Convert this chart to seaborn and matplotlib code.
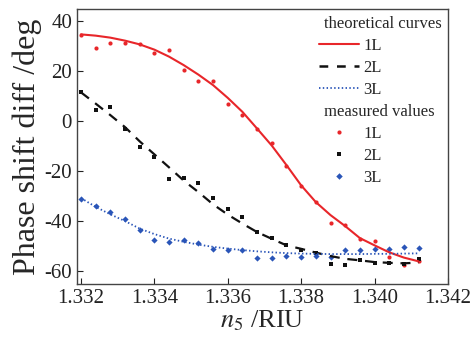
import matplotlib
matplotlib.use("Agg")
import matplotlib.pyplot as plt
from matplotlib.lines import Line2D
import seaborn as sns
import pandas as pd

# refractive index grid (RIU)
n5 = [1.3320, 1.3324, 1.3328, 1.3332, 1.3336, 1.3340, 1.3344, 1.3348,
      1.3352, 1.3356, 1.3360, 1.3364, 1.3368, 1.3372, 1.3376, 1.3380,
      1.3384, 1.3388, 1.3392, 1.3396, 1.3400, 1.3404, 1.3408, 1.3412]

# theoretical curves (deg)
theory_1L = [34.7, 34.2, 33.4, 32.2, 30.7, 28.6, 25.8, 22.4,
             18.6, 14.4, 9.3, 3.7, -3.0, -9.8, -17.6, -25.7,
             -32.4, -37.6, -42.0, -46.8, -49.7, -52.5, -54.6, -56.1]
theory_2L = [11.5, 7.0, 2.4, -2.4, -8.1, -13.3, -18.5, -23.8,
             -28.4, -33.3, -37.4, -41.0, -44.4, -47.1, -49.7, -51.1,
             -52.6, -54.0, -55.1, -55.7, -56.4, -56.7, -56.9, -56.6]
theory_3L = [-30.8, -34.3, -37.3, -40.0, -43.0, -45.2, -47.0, -48.3,
             -49.4, -50.3, -51.0, -51.6, -52.1, -52.5, -52.8, -53.0,
             -53.1, -53.2, -53.2, -53.2, -53.1, -53.1, -53.0, -52.9]

# measured values (deg)
meas_1L = [34.4, 29.3, 31.1, 31.3, 30.7, 27.1, 28.5, 20.3,
           15.9, 15.9, 6.7, 2.5, -3.3, -8.7, -17.9, -26.0,
           -32.5, -40.8, -41.7, -47.0, -48.0, -54.5, -57.4, -55.8]
meas_2L = [11.5, 4.4, 5.5, -3.3, -10.3, -14.3, -23.2, -22.8,
           -24.8, -30.7, -35.1, -38.4, -44.5, -46.9, -49.6, -51.5,
           -52.7, -57.0, -57.5, -55.5, -56.7, -56.7, -57.0, -55.2]
meas_3L = [-31.1, -34.0, -36.4, -39.3, -43.6, -47.6, -48.5, -47.7,
           -48.7, -51.2, -51.5, -51.7, -54.8, -54.8, -54.1, -54.4,
           -54.0, -54.3, -51.5, -51.7, -51.1, -51.3, -50.5, -50.8]

xticks = [1.332, 1.334, 1.336, 1.338, 1.340, 1.342]
xticklabels = ["1.332", "1.334", "1.336", "1.338", "1.340", "1.342"]
yticks = [-60, -40, -20, 0, 20, 40]

RED = "#e8262a"
BLACK = "#111111"
BLUE = "#2a55b8"

sns.set_style("ticks")
plt.rcParams["font.family"] = ["Liberation Serif", "DejaVu Serif"]
plt.rcParams["mathtext.fontset"] = "stix"
plt.rcParams["axes.unicode_minus"] = False

fig = plt.figure(figsize=(4.75, 3.39), dpi=100)
ax = fig.add_axes([0.162, 0.162, 0.781, 0.811])

df = pd.DataFrame({"n5": n5, "t1": theory_1L, "t2": theory_2L, "t3": theory_3L,
                   "m1": meas_1L, "m2": meas_2L, "m3": meas_3L})

sns.scatterplot(data=df, x="n5", y="m1", ax=ax, color=RED, marker="o", s=9,
                linewidth=0, zorder=3)
sns.scatterplot(data=df, x="n5", y="m2", ax=ax, color=BLACK, marker="s", s=8,
                linewidth=0, zorder=3)
sns.scatterplot(data=df, x="n5", y="m3", ax=ax, color=BLUE, marker="D", s=10,
                linewidth=0, zorder=3)

sns.lineplot(data=df, x="n5", y="t1", ax=ax, color=RED, linewidth=1.5, zorder=4)
sns.lineplot(data=df, x="n5", y="t2", ax=ax, color=BLACK, linewidth=1.6,
             dashes=False, zorder=4)
ax.lines[-1].set_dashes((4.5, 3.5))
sns.lineplot(data=df, x="n5", y="t3", ax=ax, color=BLUE, linewidth=1.3, zorder=4)
ax.lines[-1].set_dashes((0.8, 1.3))

ax.set_xlim(1.33189, 1.342)
ax.set_ylim(-65.2, 44.8)
ax.set_xticks(xticks)
ax.set_xticklabels(xticklabels)
ax.set_yticks(yticks)
ax.tick_params(direction="in", length=4, width=0.8, labelsize=15, colors="#222222")
for s in ax.spines.values():
    s.set_linewidth(1.0)
    s.set_color("#444444")

ax.set_xlabel(r"$n_5$ /RIU", fontsize=19, labelpad=0)
ax.set_ylabel("Phase shift diff /deg", fontsize=23, labelpad=2)

blank = Line2D([], [], color="none")
handles = [blank,
           Line2D([], [], color=RED, lw=1.5),
           Line2D([], [], color=BLACK, lw=1.8, dashes=(3.5, 3.5)),
           Line2D([], [], color=BLUE, lw=1.3, dashes=(0.8, 1.3)),
           blank,
           Line2D([], [], color=RED, marker="o", ms=3, ls="none", mew=0),
           Line2D([], [], color=BLACK, marker="s", ms=3, ls="none", mew=0),
           Line2D([], [], color=BLUE, marker="D", ms=3.3, ls="none", mew=0)]
labels = ["theoretical curves", "1L", "2L", "3L", "measured values", "1L", "2L", "3L"]
leg = ax.legend(handles, labels, loc="upper right", frameon=False, fontsize=12,
                handlelength=2.4, handletextpad=0.3, labelspacing=0.36,
                borderaxespad=0.2, borderpad=0.2, numpoints=1)
for vpack in leg._legend_handle_box.get_children():
    for hpack in vpack.get_children():
        da, ta = hpack.get_children()
        if ta.get_text() in ("theoretical curves", "measured values"):
            da.set_width(0)

fig.savefig("out.png", dpi=100)
